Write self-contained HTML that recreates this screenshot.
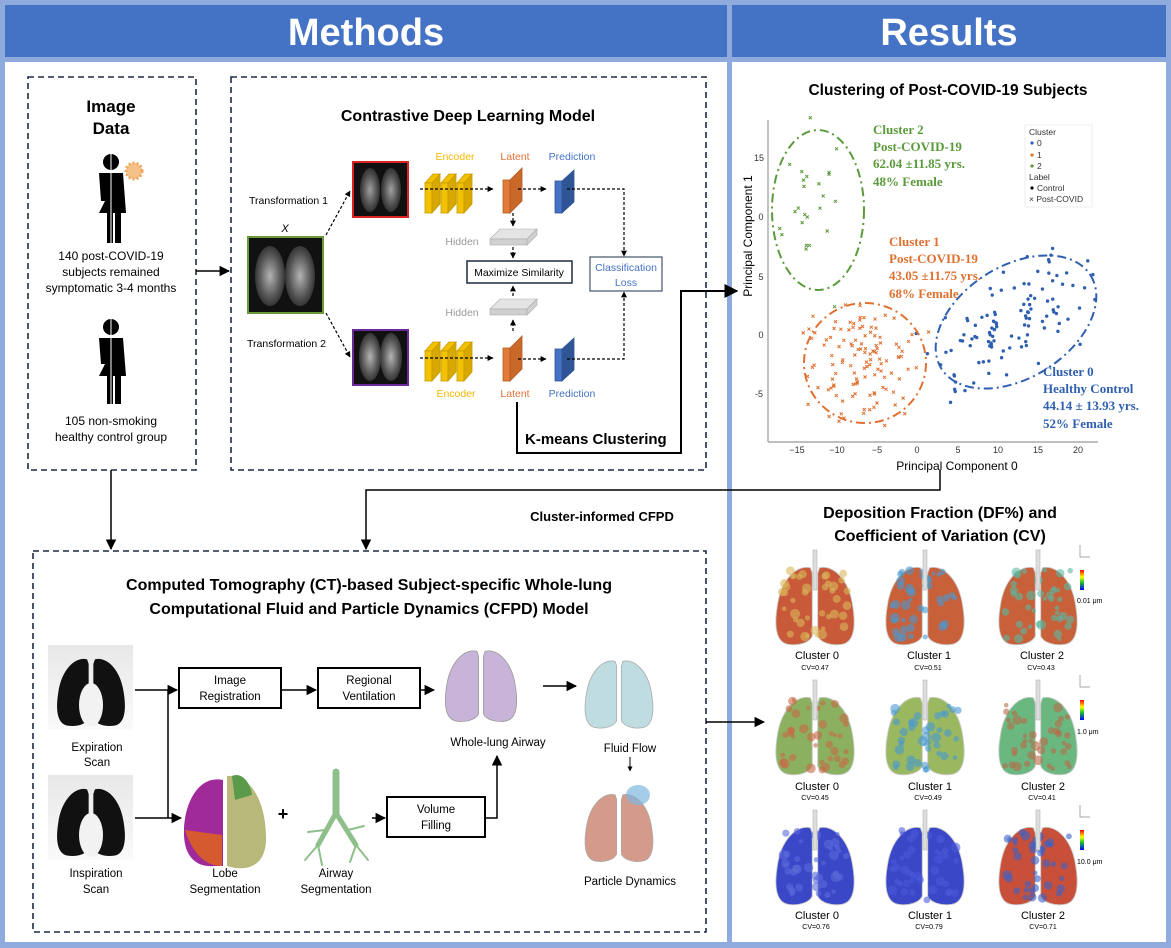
<!DOCTYPE html>
<html><head><meta charset="utf-8"><style>
html,body{margin:0;padding:0;background:#fff}
svg{display:block}
text{font-family:"Liberation Sans",sans-serif}
.t text{font-family:"Liberation Serif",serif;font-weight:bold}
</style></head><body>
<svg id="s" width="1171" height="948" viewBox="0 0 1171 948" xmlns="http://www.w3.org/2000/svg">
<defs>
<marker id="ar" viewBox="0 0 10 10" refX="9" refY="5" markerWidth="7" markerHeight="7" orient="auto-start-reverse"><path d="M0,0L10,5L0,10Z" fill="#000"/></marker>
<marker id="as" viewBox="0 0 10 10" refX="9" refY="5" markerWidth="5" markerHeight="5" orient="auto"><path d="M0,0L10,5L0,10Z" fill="#000"/></marker>
<radialGradient id="xr" cx="50%" cy="50%" r="60%"><stop offset="0" stop-color="#ddd"/><stop offset="0.6" stop-color="#666"/><stop offset="1" stop-color="#222"/></radialGradient>
<linearGradient id="ct" x1="0" x2="0" y1="0" y2="1"><stop offset="0" stop-color="#e8e8e8"/><stop offset="1" stop-color="#fafafa"/></linearGradient>
<symbol id="lung" viewBox="0 0 100 100">
<path d="M45,12 C30,8 12,25 8,55 C4,80 8,95 20,97 C32,99 44,95 47,88 L47,18 Z"/>
<path d="M55,12 C70,8 88,25 92,55 C96,80 92,95 80,97 C68,99 56,95 53,88 L53,18 Z"/>
</symbol>
</defs>
<rect x="0" y="0" width="1171" height="948" fill="#8faadc"/>
<rect x="5" y="5" width="722" height="52" fill="#4472c4"/>
<rect x="732" y="5" width="434" height="52" fill="#4472c4"/>
<rect x="5" y="62" width="722" height="880" fill="#fff"/>
<rect x="732" y="62" width="434" height="880" fill="#fff"/>
<text x="366" y="45" font-size="38" font-weight="bold" fill="#fff" text-anchor="middle">Methods</text>
<text x="949" y="45" font-size="38" font-weight="bold" fill="#fff" text-anchor="middle">Results</text>

<g fill="none" stroke="#1f2a44" stroke-width="1.6" stroke-dasharray="6,4">
<rect x="28" y="77" width="168" height="393"/>
<rect x="231" y="77" width="475" height="393"/>
<rect x="33" y="551" width="673" height="381"/>
</g>

<text x="111" y="112" font-size="17" font-weight="bold" text-anchor="middle">Image</text>
<text x="111" y="134" font-size="17" font-weight="bold" text-anchor="middle">Data</text>
<g fill="#000">
<circle cx="111" cy="162" r="8"/>
<path d="M99,173 h24 l3,40 h-5 v30 h-6 v-30 h-2 v30 h-6 v-30 h-8 l6,-12 l-4,0 z"/>
<circle cx="111" cy="327" r="8"/>
<path d="M99,338 h24 l3,38 h-5 v28 h-6 v-28 h-2 v28 h-6 v-28 h-8 l6,-12 l-4,0 z"/>
</g>
<line x1="111" y1="150" x2="111" y2="245" stroke="#fff" stroke-width="1"/>
<line x1="111" y1="315" x2="111" y2="406" stroke="#fff" stroke-width="1"/>
<circle cx="134" cy="171" r="8" fill="#f5c28a" stroke="#f0a860" stroke-width="3" stroke-dasharray="2,2"/>
<g font-size="12" text-anchor="middle">
<text x="111" y="260">140 post-COVID-19</text>
<text x="111" y="276">subjects remained</text>
<text x="111" y="292">symptomatic  3-4 months</text>
<text x="111" y="425">105 non-smoking</text>
<text x="111" y="441">healthy control group</text>
</g>

<text x="468" y="121" font-size="16" font-weight="bold" text-anchor="middle">Contrastive Deep Learning Model</text>
<rect x="248" y="237" width="75" height="76" fill="#111" stroke="#6a9a3a" stroke-width="2"/>
<ellipse cx="270" cy="276" rx="15" ry="30" fill="url(#xr)" opacity=".8"/><ellipse cx="300" cy="276" rx="15" ry="30" fill="url(#xr)" opacity=".8"/>
<rect x="353" y="162" width="55" height="55" fill="#111" stroke="#d22" stroke-width="2"/>
<ellipse cx="370" cy="190" rx="10" ry="22" fill="url(#xr)" opacity=".7"/><ellipse cx="391" cy="190" rx="10" ry="22" fill="url(#xr)" opacity=".7"/>
<rect x="353" y="330" width="55" height="55" fill="#111" stroke="#6a2a9a" stroke-width="2"/>
<ellipse cx="370" cy="357" rx="11" ry="24" fill="url(#xr)" opacity=".8"/><ellipse cx="391" cy="357" rx="11" ry="24" fill="url(#xr)" opacity=".8"/>
<text x="285" y="232" font-size="11" font-style="italic" text-anchor="middle">X</text>
<g font-size="10.5"><text x="249" y="204">Transformation 1</text><text x="247" y="347">Transformation 2</text></g>
<g stroke="#000" stroke-width="1.2" stroke-dasharray="3,2" fill="none">
<line x1="326" y1="235" x2="350" y2="191" marker-end="url(#as)"/>
<line x1="326" y1="313" x2="350" y2="357" marker-end="url(#as)"/>
</g>
<g id="enc">
<g fill="#f2c100" stroke="#c89a00" stroke-width=".8">
<path d="M425,183 l8,-9 h7 l-8,9z" /><rect x="425" y="183" width="7" height="30"/><path d="M432,183 l8,-9 v30 l-8,9z" fill="#d7a800"/>
<path d="M441,183 l8,-9 h7 l-8,9z" /><rect x="441" y="183" width="7" height="30"/><path d="M448,183 l8,-9 v30 l-8,9z" fill="#d7a800"/>
<path d="M457,183 l8,-9 h7 l-8,9z" /><rect x="457" y="183" width="7" height="30"/><path d="M464,183 l8,-9 v30 l-8,9z" fill="#d7a800"/>
</g>
</g>
<use href="#enc" y="168"/>
<g fill="#e07b39" stroke="#b85a20" stroke-width=".8">
<rect x="503" y="180" width="7" height="33"/><path d="M510,180 l12,-12 v33 l-12,12z" fill="#c8692a"/>
<rect x="503" y="348" width="7" height="33"/><path d="M510,348 l12,-12 v33 l-12,12z" fill="#c8692a"/>
</g>
<g fill="#4472c4" stroke="#2f5597" stroke-width=".8">
<rect x="555" y="181" width="7" height="32"/><path d="M562,181 l12,-11 v32 l-12,11z" fill="#2f5597"/>
<rect x="555" y="349" width="7" height="32"/><path d="M562,349 l12,-11 v32 l-12,11z" fill="#2f5597"/>
</g>
<g fill="#d0d0d0" stroke="#aaa" stroke-width=".6">
<path d="M490,239 l10,-10 h37 l-10,10z" fill="#e4e4e4"/><rect x="490" y="239" width="37" height="6"/><path d="M527,239 l10,-10 v6 l-10,10z"/>
<path d="M490,309 l10,-10 h37 l-10,10z" fill="#e4e4e4"/><rect x="490" y="309" width="37" height="6"/><path d="M527,309 l10,-10 v6 l-10,10z"/>
</g>
<g font-size="10.5">
<text x="455" y="160" fill="#f2b800" text-anchor="middle">Encoder</text>
<text x="515" y="160" fill="#e0703a" text-anchor="middle">Latent</text>
<text x="572" y="160" fill="#4472c4" text-anchor="middle">Prediction</text>
<text x="456" y="397" fill="#f2b800" text-anchor="middle">Encoder</text>
<text x="515" y="397" fill="#e0703a" text-anchor="middle">Latent</text>
<text x="572" y="397" fill="#4472c4" text-anchor="middle">Prediction</text>
<text x="462" y="245" fill="#999" text-anchor="middle">Hidden</text>
<text x="462" y="316" fill="#999" text-anchor="middle">Hidden</text>
</g>
<g stroke="#000" stroke-width="1.2" stroke-dasharray="3,2" fill="none">
<line x1="420" y1="189" x2="493" y2="189" marker-end="url(#as)"/>
<line x1="420" y1="358" x2="493" y2="358" marker-end="url(#as)"/>
<line x1="518" y1="189" x2="546" y2="189" marker-end="url(#as)"/>
<line x1="518" y1="359" x2="546" y2="359" marker-end="url(#as)"/>
<line x1="513" y1="213" x2="513" y2="226" marker-end="url(#as)"/>
<line x1="513" y1="247" x2="513" y2="258" marker-end="url(#as)"/>
<line x1="513" y1="296" x2="513" y2="286" marker-end="url(#as)"/>
<line x1="513" y1="331" x2="513" y2="320" marker-end="url(#as)"/>
<polyline points="567,189 624,189 624,256" marker-end="url(#as)"/>
<polyline points="567,359 624,359 624,292" marker-end="url(#as)"/>
</g>
<rect x="467" y="261" width="105" height="22" fill="#fff" stroke="#1f2a44" stroke-width="1.5"/>
<text x="519" y="276" font-size="10.5" text-anchor="middle">Maximize Similarity</text>
<rect x="590" y="257" width="72" height="34" fill="#fff" stroke="#44546a" stroke-width="1.2"/>
<g font-size="10.5" fill="#4472c4" text-anchor="middle"><text x="626" y="271">Classification</text><text x="626" y="286">Loss</text></g>
<polyline points="517,402 517,453 681,453 681,291 737,291" fill="none" stroke="#000" stroke-width="2" marker-end="url(#ar)"/>
<text x="525" y="444" font-size="15" font-weight="bold">K-means Clustering</text>
<line x1="196" y1="271" x2="229" y2="271" stroke="#000" stroke-width="1.5" marker-end="url(#ar)"/>
<line x1="111" y1="470" x2="111" y2="549" stroke="#000" stroke-width="1.5" marker-end="url(#ar)"/>
<polyline points="940,470 940,490 366,490 366,549" fill="none" stroke="#000" stroke-width="1.5" marker-end="url(#ar)"/>
<text x="602" y="521" font-size="13" font-weight="bold" text-anchor="middle">Cluster-informed CFPD</text>
<line x1="706" y1="722" x2="764" y2="722" stroke="#000" stroke-width="1.5" marker-end="url(#ar)"/>

<text x="948" y="95" font-size="15.5" font-weight="bold" text-anchor="middle">Clustering of Post-COVID-19 Subjects</text>
<g stroke="#999" stroke-width="1.2"><line x1="768" y1="120" x2="768" y2="442"/><line x1="768" y1="442" x2="1098" y2="442"/></g>
<g font-size="9" fill="#333" text-anchor="middle">
<text x="797" y="453">−15</text><text x="837" y="453">−10</text><text x="877" y="453">−5</text><text x="917" y="453">0</text><text x="958" y="453">5</text><text x="998" y="453">10</text><text x="1038" y="453">15</text><text x="1078" y="453">20</text>
<text x="759" y="161">15</text><text x="761" y="220">0</text><text x="761" y="280">5</text><text x="761" y="338">0</text><text x="759" y="397">-5</text>
</g>
<text x="957" y="470" font-size="12" text-anchor="middle">Principal Component 0</text>
<text transform="translate(752,236) rotate(-90)" font-size="12" text-anchor="middle">Principal Component 1</text>
<g id="pts"></g>
<g fill="none" stroke-width="2" stroke-dasharray="9,4,2,4">
<ellipse cx="818" cy="210" rx="46" ry="80" stroke="#5a9a3a"/>
<ellipse cx="865" cy="363" rx="61" ry="60" stroke="#e07030"/>
<ellipse cx="1016" cy="322" rx="88" ry="56" stroke="#2f5fb0" transform="rotate(-32 1016 322)"/>
</g>
<rect x="1025" y="125" width="67" height="82" fill="#fff" stroke="#eee"/>
<g font-size="8.5" fill="#333">
<text x="1029" y="135">Cluster</text>
<circle cx="1032" cy="143" r="1.6" fill="#2f5fb0"/><text x="1037" y="146">0</text>
<circle cx="1032" cy="155" r="1.6" fill="#e07030"/><text x="1037" y="158">1</text>
<circle cx="1032" cy="166" r="1.6" fill="#5a9a3a"/><text x="1037" y="169">2</text>
<text x="1029" y="180">Label</text>
<circle cx="1032" cy="188" r="1.6" fill="#000"/><text x="1037" y="191">Control</text>
<text x="1029" y="202">× Post-COVID</text>
</g>
<g class="t" font-size="13">
<g fill="#5a9a3a"><text x="873" y="134">Cluster 2</text><text x="873" y="151">Post-COVID-19</text><text x="873" y="168">62.04 ±11.85 yrs.</text><text x="873" y="186">48% Female</text></g>
<g fill="#e07030"><text x="889" y="246">Cluster 1</text><text x="889" y="263">Post-COVID-19</text><text x="889" y="280">43.05 ±11.75 yrs.</text><text x="889" y="298">68% Female</text></g>
<g fill="#2f5fb0"><text x="1043" y="376">Cluster 0</text><text x="1043" y="393">Healthy Control</text><text x="1043" y="410">44.14 ± 13.93 yrs.</text><text x="1043" y="428">52% Female</text></g>
</g>

<text x="369" y="590" font-size="16" font-weight="bold" text-anchor="middle">Computed Tomography (CT)-based Subject-specific Whole-lung</text>
<text x="369" y="614" font-size="16" font-weight="bold" text-anchor="middle">Computational Fluid and Particle Dynamics (CFPD) Model</text>
<rect x="48" y="645" width="85" height="85" fill="url(#ct)"/>
<use href="#lung" x="50" y="650" width="82" height="78" fill="#111"/>
<rect x="48" y="775" width="85" height="85" fill="url(#ct)"/>
<use href="#lung" x="50" y="780" width="82" height="78" fill="#111"/>
<ellipse cx="91" cy="705" rx="12" ry="22" fill="#f2f2f2"/><ellipse cx="91" cy="835" rx="12" ry="22" fill="#f2f2f2"/>
<g font-size="11.5" text-anchor="middle">
<text x="97" y="751">Expiration</text><text x="97" y="766">Scan</text>
<text x="96" y="877">Inspiration</text><text x="96" y="893">Scan</text>
<text x="225" y="877">Lobe</text><text x="225" y="893">Segmentation</text>
<text x="336" y="877">Airway</text><text x="336" y="893">Segmentation</text>
<text x="498" y="746">Whole-lung Airway</text>
<text x="630" y="752">Fluid Flow</text>
<text x="630" y="885">Particle Dynamics</text>
</g>
<g fill="#fff" stroke="#000" stroke-width="2">
<rect x="179" y="668" width="102" height="40"/><rect x="318" y="668" width="102" height="40"/><rect x="387" y="797" width="98" height="40"/>
</g>
<g font-size="11.5" text-anchor="middle">
<text x="230" y="684">Image</text><text x="230" y="700">Registration</text>
<text x="369" y="684">Regional</text><text x="369" y="700">Ventilation</text>
<text x="436" y="813">Volume</text><text x="436" y="829">Filling</text>
</g>
<g stroke="#000" stroke-width="1.5" fill="none">
<line x1="135" y1="690" x2="177" y2="690" marker-end="url(#ar)"/>
<line x1="168" y1="690" x2="168" y2="818"/>
<line x1="135" y1="818" x2="181" y2="818" marker-end="url(#ar)"/>
<line x1="281" y1="690" x2="316" y2="690" marker-end="url(#ar)"/>
<line x1="420" y1="690" x2="434" y2="690" marker-end="url(#ar)"/>
<line x1="372" y1="818" x2="385" y2="818" marker-end="url(#ar)"/>
<polyline points="485,818 497,818 497,756" marker-end="url(#ar)"/>
<line x1="543" y1="686" x2="576" y2="686" marker-end="url(#ar)"/>
<line x1="630" y1="757" x2="630" y2="771" stroke-width="1" marker-end="url(#as)"/>
</g>
<text x="283" y="820" font-size="18" font-weight="bold" text-anchor="middle">+</text>
<path d="M223,780 C200,775 185,800 184,830 C183,855 195,868 215,866 L223,866 Z" fill="#a02a9a"/>
<path d="M185,830 C190,845 200,866 222,866 L222,835 Z" fill="#d65a30"/>
<path d="M227,776 C250,774 265,800 266,835 C267,860 255,870 235,868 L227,866 Z" fill="#b8b87a"/>
<path d="M232,776 C240,772 250,780 252,795 L235,800 Z" fill="#5a9a4a"/>
<g stroke="#8fbf8a" fill="none" stroke-linecap="round">
<path d="M336,772 L336,815" stroke-width="7"/>
<path d="M336,813 L318,845 M336,813 L356,845" stroke-width="5"/>
<path d="M318,845 L305,860 M318,845 L322,865 M356,845 L368,860 M356,845 L350,862 M325,830 L308,832 M348,830 L364,826" stroke-width="2"/>
</g>
<use href="#lung" x="440" y="635" width="82" height="95" fill="#c8b4d8" stroke="#999" stroke-width="1"/>
<use href="#lung" x="580" y="645" width="78" height="92" fill="#bfdde0" stroke="#aaa" stroke-width="1"/>
<use href="#lung" x="580" y="777" width="78" height="95" fill="#d49a8a" stroke="#aaa" stroke-width="1"/>
<ellipse cx="638" cy="795" rx="12" ry="10" fill="#7fb8e0" opacity=".7"/>

<text x="940" y="518" font-size="16" font-weight="bold" text-anchor="middle">Deposition Fraction (DF%) and</text>
<text x="940" y="541" font-size="16" font-weight="bold" text-anchor="middle">Coefficient of Variation (CV)</text>
<g id="lungs"></g>
<g font-size="11" text-anchor="middle">
<text x="817" y="659">Cluster 0</text><text x="929" y="659">Cluster 1</text><text x="1042" y="659">Cluster 2</text>
<text x="817" y="790">Cluster 0</text><text x="930" y="790">Cluster 1</text><text x="1043" y="790">Cluster 2</text>
<text x="817" y="919">Cluster 0</text><text x="930" y="919">Cluster 1</text><text x="1043" y="919">Cluster 2</text>
</g>
<g font-size="7" text-anchor="middle">
<text x="815" y="670">CV=0.47</text><text x="928" y="670">CV=0.51</text><text x="1041" y="670">CV=0.43</text>
<text x="815" y="800">CV=0.45</text><text x="928" y="800">CV=0.49</text><text x="1042" y="800">CV=0.41</text>
<text x="816" y="929">CV=0.76</text><text x="929" y="929">CV=0.79</text><text x="1043" y="929">CV=0.71</text>
</g>
<g font-size="7"><text x="1077" y="603">0.01 μm</text><text x="1077" y="734">1.0 μm</text><text x="1077" y="864">10.0 μm</text></g>
</svg>
<script>
(function(){
var s=7;function r(){s=(s*9301+49297)%233280;return s/233280;}
function n(){return (r()+r()+r()-1.5)*1.4;}
var g=document.getElementById("pts"),h="";
function X(x,y,c){h+='<path d="M'+(x-1.5)+','+(y-1.5)+'l3,3m0,-3l-3,3" stroke="'+c+'" stroke-width="1"/>';}
for(var i=0;i<25;i++)X(818+n()*30,210+n()*55,"#5a9a3a");
for(i=0;i<120;i++)X(865+n()*38,363+n()*38,"#e07030");
for(i=0;i<110;i++){var a=n()*58,b=n()*33,c=Math.cos(-0.56),d=Math.sin(-0.56);h+='<circle cx="'+(1016+a*c-b*d)+'" cy="'+(322+a*d+b*c)+'" r="1.7" fill="#2f5fb0"/>';}
g.innerHTML=h;
var L=document.getElementById("lungs"),q="";
var cols=[[["#c85a3a","#d8b85a"],["#c8603a","#4a9ad0"],["#c8603a","#5ab8a0"]],[["#8ab060","#c86a4a"],["#9ab860","#4a9ad0"],["#6ab880","#b86a4a"]],[["#3a48c8","#5a6ad8"],["#3a48c8","#4a5ad8"],["#c8503a","#3a60c8"]]];
var ys=[550,680,810],xs=[770,880,993];
for(var rI=0;rI<3;rI++)for(var cI=0;cI<3;cI++){var x=xs[cI],y=ys[rI],cc=cols[rI][cI];
q+='<use href="#lung" x="'+x+'" y="'+(y+6)+'" width="90" height="92" fill="'+cc[0]+'" stroke="#ccc" stroke-width="1"/>';
for(var k=0;k<40;k++){q+='<circle cx="'+(x+12+r()*66)+'" cy="'+(y+20+r()*70)+'" r="'+(2+r()*3)+'" fill="'+cc[1]+'" opacity=".6"/>';}
q+='<rect x="'+(x+43)+'" y="'+y+'" width="4" height="40" fill="#ddd" stroke="#aaa" stroke-width=".5"/>';}
var cb=[570,700,830];for(i=0;i<3;i++){q+='<rect x="1080" y="'+cb[i]+'" width="4" height="20" fill="url(#cbg)"/><path d="M1080,'+(cb[i]-25)+'v12h10" stroke="#888" fill="none" stroke-width=".7"/>';}
q+='<defs><linearGradient id="cbg" x1="0" x2="0" y1="0" y2="1"><stop offset="0" stop-color="red"/><stop offset=".35" stop-color="yellow"/><stop offset=".6" stop-color="#2c2"/><stop offset="1" stop-color="blue"/></linearGradient></defs>';
L.innerHTML=q;
})();
</script>
</body></html>
